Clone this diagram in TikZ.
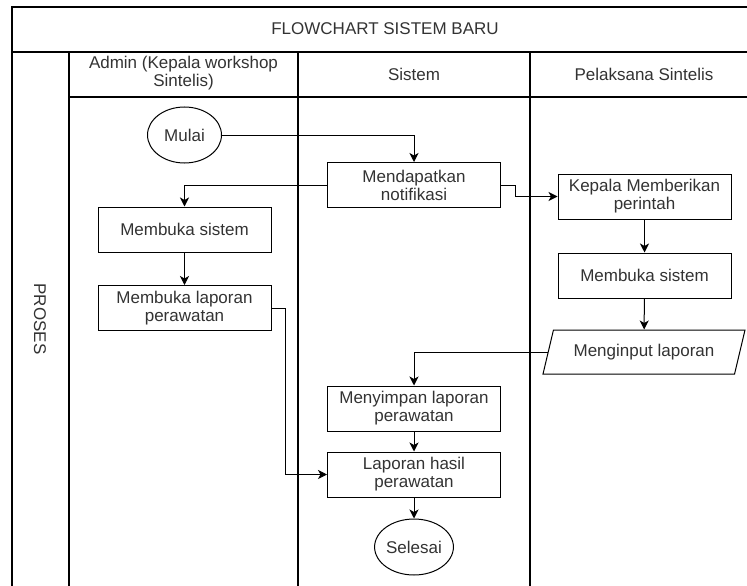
\documentclass[tikz,border=0pt]{standalone}
\usepackage{fontspec}
\setmainfont{Liberation Sans}
\usetikzlibrary{shapes.geometric,arrows.meta}

\begin{document}
\begin{tikzpicture}[x=1pt,y=-1pt,
  lbl/.style={text=black!80, font=\fontsize{17}{18}\selectfont, align=center},
  proc/.style={lbl, draw=black, line width=1pt, rectangle, minimum width=173pt, minimum height=45pt, inner sep=0pt},
  term/.style={lbl, draw=black, line width=1pt, ellipse, minimum width=74pt, minimum height=56pt, inner sep=0pt},
  io/.style={lbl, draw=black, line width=1pt, trapezium, trapezium left angle=56.6, trapezium right angle=123.4,
             trapezium stretches body, minimum width=202pt, minimum height=44pt, inner sep=0pt},
  flow/.style={draw=black, line width=1pt, -{Stealth[length=9pt,width=9pt,inset=2.5pt]}},
  frame/.style={draw=black, line width=1.3pt}]

\useasboundingbox (0,0) rectangle (747,586);
\clip (0,0) rectangle (747,586);
\fill[white] (0,0) rectangle (747,586);

% pool frame, title row and lane headers
\draw[frame] (12,600) -- (12,7) -- (760,7) -- (760,600);
\draw[frame] (12,52) -- (760,52);
\draw[frame] (69,52) -- (69,600);
\draw[frame] (298,52) -- (298,600);
\draw[frame] (530,52) -- (530,600);
\draw[frame] (69,97) -- (760,97);

\node[lbl] (title) at (385,29) {FLOWCHART SISTEM BARU};
\node[lbl] (hadmin) at (183.5,73) {Admin (Kepala workshop\\Sintelis)};
\node[lbl] (hsistem) at (414,74) {Sistem};
\node[lbl] (hpelaksana) at (644,74) {Pelaksana Sintelis};
\node[lbl, rotate=-90] (proses) at (40,319) {PROSES};

% flow nodes
\node[term] (mulai) at (184.5,135) {Mulai};
\node[proc] (notif) at (414,185) {Mendapatkan\\notifikasi};
\node[proc] (bukaA) at (184.5,229.5) {Membuka sistem};
\node[proc] (lapA) at (184.5,308) {Membuka laporan\\perawatan};
\node[proc] (perintah) at (644.5,196.5) {Kepala Memberikan\\perintah};
\node[proc] (bukaP) at (644.5,275.5) {Membuka sistem};
\node[io] (input) at (644,352) {Menginput laporan};
\node[proc] (simpan) at (414,408.5) {Menyimpan laporan\\perawatan};
\node[proc] (hasil) at (414,474.5) {Laporan hasil\\perawatan};
\node[term] (selesai) at (414,547) {Selesai};

% connectors
\draw[flow] (mulai.east) -| (notif.north);
\draw[flow] (notif.west) -| (bukaA.north);
\draw[flow] (bukaA) -- (lapA);
\draw[flow] (lapA.east) -- ++(14,0) |- (hasil.west);
\draw[flow] (notif.east) -- ++(14,0) |- (perintah.west);
\draw[flow] (perintah) -- (bukaP);
\draw[flow] (bukaP) -- (input);
\draw[flow] (input.west) -| (simpan.north);
\draw[flow] (simpan) -- (hasil);
\draw[flow] (hasil) -- (selesai);
\end{tikzpicture}
\end{document}
